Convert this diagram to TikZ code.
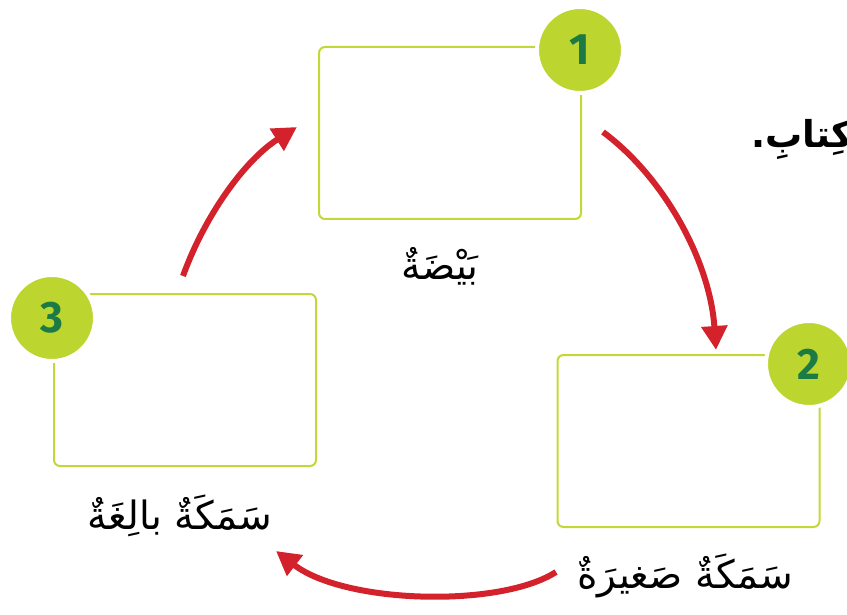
\documentclass[tikz,border=0pt]{standalone}
\usepackage{fontspec}
\TeXXeTstate=1
\newfontfamily\arabicfont[Script=Arabic]{DejaVu Sans}
\newfontfamily\numfont{Fira Sans}
\usetikzlibrary{arrows.meta,shadows}
\definecolor{boxgreen}{HTML}{C3D838}
\definecolor{circfill}{HTML}{BDD52F}
\definecolor{numgreen}{HTML}{1C7B45}
\definecolor{arrred}{HTML}{D3222B}
\tikzset{
  stagebox/.style={draw=boxgreen, line width=2pt, rounded corners=6pt, minimum width=262pt, minimum height=172pt, inner sep=0pt},
  badge/.style={circle, fill=circfill, draw=white, line width=4pt, minimum size=86pt, inner sep=0pt,
    drop shadow={shadow xshift=1pt, shadow yshift=-1.5pt, fill=black, opacity=0.18},
    font=\numfont\bfseries\fontsize{44pt}{44pt}\selectfont, text=numgreen},
  cyc/.style={draw=arrred, line width=6pt, -{Triangle[length=24pt,width=25pt]}},
  lbl/.style={font=\arabicfont\fontsize{39pt}{44pt}\selectfont, inner sep=0pt}
}
\begin{document}
\begin{tikzpicture}[x=1pt,y=-1pt]
\useasboundingbox (0,0) rectangle (847,615);
\clip (0,0) rectangle (847,615);
% boxes
\node[stagebox] (b1) at (450,133) {};
\node[stagebox] (b2) at (688.5,441) {};
\node[stagebox] (b3) at (185,380) {};
% badges
\node[badge] (c1) at (580,50) {1};
\node[badge] (c2) at (809,364) {2};
\node[badge] (c3) at (52,318) {3};
% labels
\node[lbl] (l1) at (440,266) {\beginR بَيْضَةٌ\endR};
\node[lbl] (l2) at (685,576) {\beginR سَمَكَةٌ صَغيرَةٌ\endR};
\node[lbl] (l3) at (180,516) {\beginR سَمَكَةٌ بالِغَةٌ\endR};
% partial instruction text at right edge
\node[font=\arabicfont\bfseries\fontsize{37pt}{40pt}\selectfont, anchor=base west, inner sep=0pt] (t) at (751,148) {\beginR كِتابِ.\endR};
% arrow end points
\coordinate (a1s) at (603,132);
\coordinate (a1e) at (716,350);
\coordinate (a2s) at (556,572);
\coordinate (a2e) at (276,551);
\coordinate (a3s) at (183,276);
\coordinate (a3e) at (297,127);
\draw[cyc] (a1s) .. controls (665,178) and (710,262) .. (a1e);
\draw[cyc] (a2s) .. controls (500,608) and (345,604) .. (a2e);
\draw[cyc] (a3s) .. controls (205,215) and (245,160) .. (a3e);
\end{tikzpicture}
\end{document}
